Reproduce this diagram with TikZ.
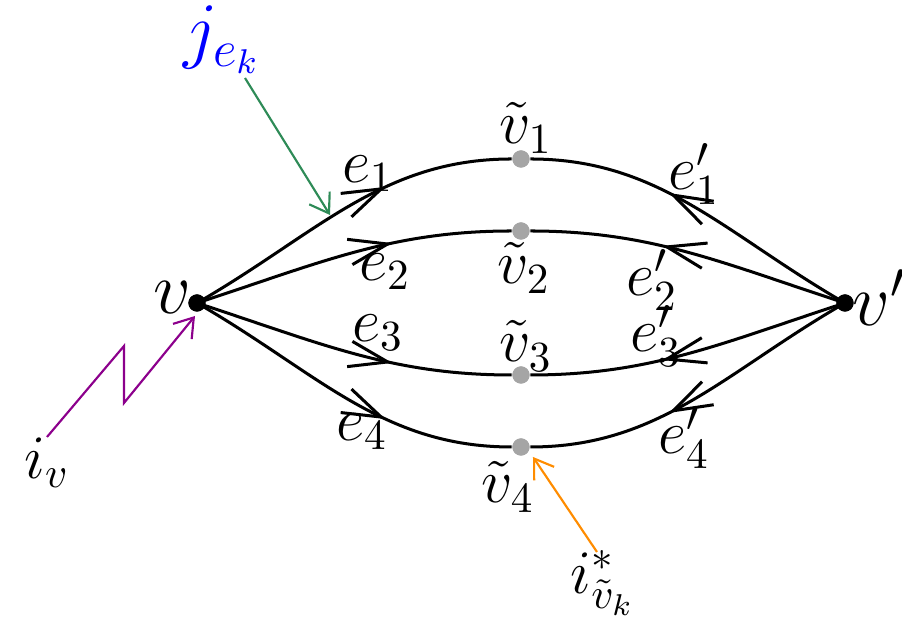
\documentclass[tikz,border=0pt]{standalone}
\usetikzlibrary{arrows.meta,decorations.markings}
\definecolor{arrgreen}{RGB}{46,139,87}
\definecolor{dotgray}{RGB}{165,165,165}
\definecolor{arrorange}{RGB}{255,140,0}
\definecolor{arrpurple}{RGB}{140,0,140}
\begin{document}
\begin{tikzpicture}[x=0.2326pt,y=-0.2326pt,
  blackdot/.style={circle,fill=black,inner sep=0pt,minimum size=4pt},
  graydot/.style={circle,fill=dotgray,inner sep=0pt,minimum size=4pt},
  lab/.style={inner sep=0pt,anchor=center,font=\Large},
  edge/.style={line width=0.7pt,postaction={decorate},
    decoration={markings,mark=at position #1 with {\arrow{Straight Barb[length=9pt,width=6pt,line width=0.7pt]}}}},
  colarr/.style={line width=0.5pt,-{Straight Barb[length=4.2pt,width=5.6pt,line width=0.5pt]}}]
\useasboundingbox (0,0) rectangle (902,624);
% vertices
\node[blackdot] (v) at (197,303) {};
\node[blackdot] (vp) at (845,303) {};
\node[graydot] (t1) at (521,159) {};
\node[graydot] (t2) at (521,231) {};
\node[graydot] (t3) at (521,375) {};
\node[graydot] (t4) at (521,447) {};
% edges left
\draw[edge=0.63] (v.center) .. controls (317,234) and (382,159) .. (t1.west);
\draw[edge=0.63] (v.center) .. controls (320,263) and (391,231) .. (t2.west);
\draw[edge=0.63] (v.center) .. controls (320,343) and (391,375) .. (t3.west);
\draw[edge=0.63] (v.center) .. controls (317,372) and (382,447) .. (t4.west);
% edges right
\draw[edge=0.59] (vp.center) .. controls (725,234) and (660,159) .. (t1.east);
\draw[edge=0.59] (vp.center) .. controls (722,263) and (651,231) .. (t2.east);
\draw[edge=0.59] (vp.center) .. controls (722,343) and (651,375) .. (t3.east);
\draw[edge=0.59] (vp.center) .. controls (725,372) and (660,447) .. (t4.east);
% redraw dots on top
\node[graydot] at (t1) {};
\node[graydot] at (t2) {};
\node[graydot] at (t3) {};
\node[graydot] at (t4) {};
\node[blackdot] at (v) {};
\node[blackdot] at (vp) {};
% labels
\node[lab,font=\LARGE] (lv) at (172,298) {$v$};
\node[lab,font=\LARGE] (lvp) at (880,298) {$v'$};
\node[lab] (le1) at (368,174) {$e_1$};
\node[lab] (le2) at (385,272) {$e_2$};
\node[lab] (le3) at (378,333) {$e_3$};
\node[lab] (le4) at (362,432) {$e_4$};
\node[lab] (lt1) at (526,128) {$\tilde v_1$};
\node[lab] (lt2) at (524,268) {$\tilde v_2$};
\node[lab] (lt3) at (526,346) {$\tilde v_3$};
\node[lab] (lt4) at (508,487) {$\tilde v_4$};
\node[lab] (lep1) at (694,174) {$e'_1$};
\node[lab] (lep2) at (652,280) {$e'_2$};
\node[lab] (lep3) at (656,336) {$e'_3$};
\node[lab] (lep4) at (684,438) {$e'_4$};
\node[lab,font=\fontsize{16.5}{20}\selectfont,text=blue] (lj) at (222,40) {$j_{e_k}$};
\node[lab] (liv) at (47,463) {$i_v$};
\node[lab] (lis) at (603,583) {$i^*_{\tilde v_k}$};
% current arrows
\coordinate (gs) at (245,78);
\coordinate (ge) at (330,215);
\draw[colarr,arrgreen] (gs) -- (ge);
\coordinate (os) at (597,552);
\coordinate (oe) at (533,457);
\draw[colarr,arrorange] (os) -- (oe);
\coordinate (ps) at (47,437);
\coordinate (pa) at (124,346);
\coordinate (pb) at (124,403);
\coordinate (pe) at (195,316);
\draw[colarr,arrpurple] (ps) -- (pa) -- (pb) -- (pe);
\end{tikzpicture}
\end{document}
